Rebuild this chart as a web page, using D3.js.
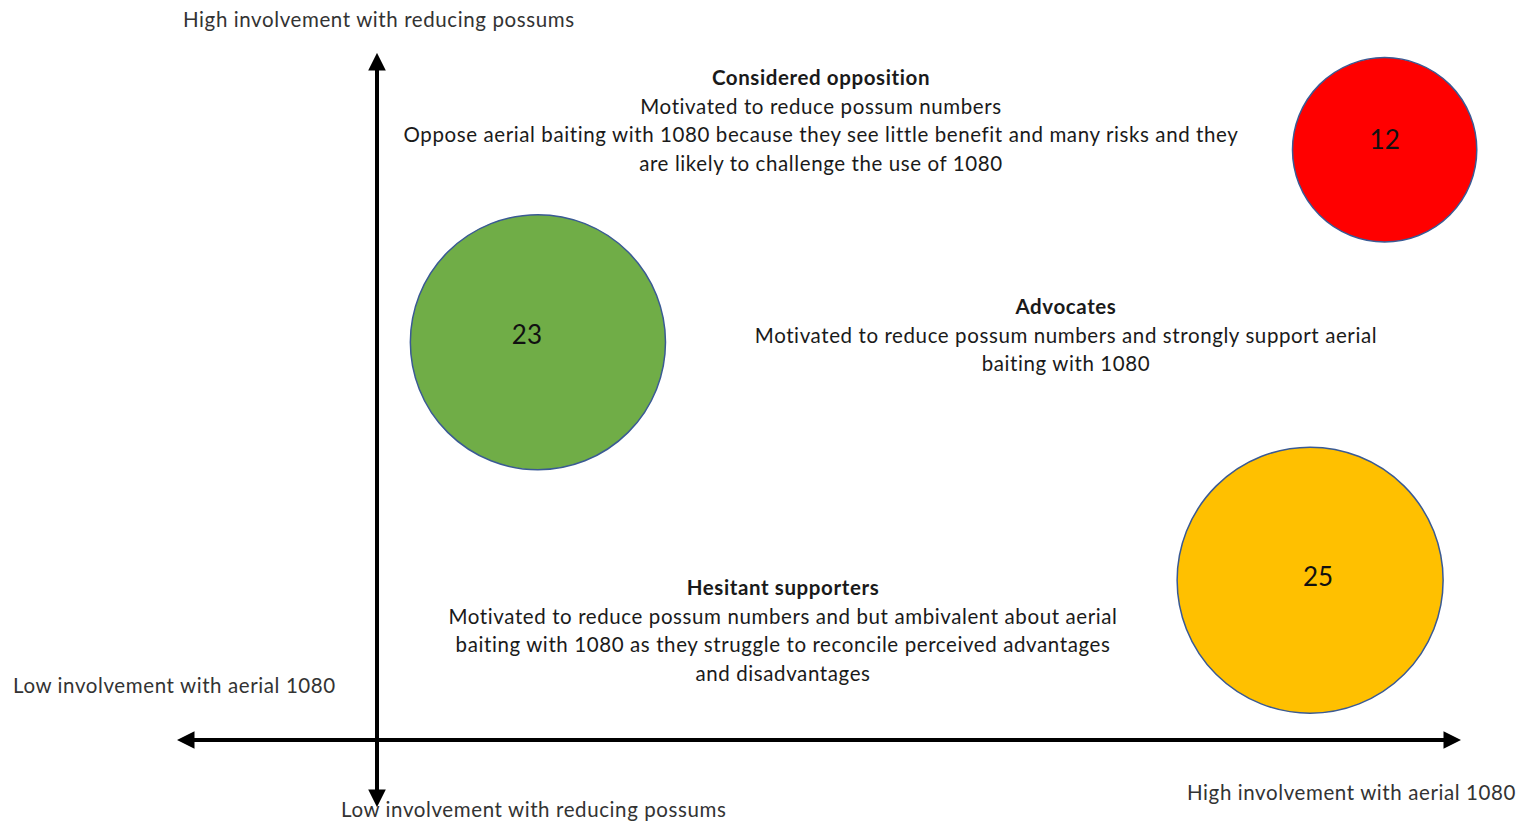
<!DOCTYPE html>
<html>
<head>
<meta charset="utf-8">
<script src="https://cdn.jsdelivr.net/npm/d3@7"></script>
<style>
  body { margin: 0; background: #fff; }
  svg { display: block; font-family: Lato, "Open Sans", sans-serif; }
</style>
</head>
<body>
<script>
// segments, counts and where they sit on the two involvement axes (0-100)
var segments = ['Considered opposition', 'Advocates', 'Hesitant supporters'];
var counts = [12, 23, 25];
var aerialInvolvement = [93.3, 14.9, 86.4];
var possumInvolvement = [86.8, 58.5, 23.5];
var fills = ['#ff0000', '#70ad47', '#ffc000'];

var descriptions = [
	['Motivated to reduce possum numbers',
	 'Oppose aerial baiting with 1080 because they see little benefit and many risks and they',
	 'are likely to challenge the use of 1080'],
	['Motivated to reduce possum numbers and strongly support aerial',
	 'baiting with 1080'],
	['Motivated to reduce possum numbers and but ambivalent about aerial',
	 'baiting with 1080 as they struggle to reconcile perceived advantages',
	 'and disadvantages']
];

var W = 1520, H = 821;
var svg = d3.select('body').append('svg').attr('width', W).attr('height', H);

var x = d3.scaleLinear().domain([0, 100]).range([377, 1457]);
var y = d3.scaleLinear().domain([0, 100]).range([740, 60]);
var r = d3.scaleSqrt().domain([0, 25]).range([0, 133]);

// arrow heads
var defs = svg.append('defs');
defs.append('marker')
	.attr('id', 'head')
	.attr('viewBox', '0 0 10 10')
	.attr('refX', 2).attr('refY', 5)
	.attr('markerWidth', 4.4).attr('markerHeight', 4.6)
	.attr('orient', 'auto-start-reverse')
	.append('path').attr('d', 'M0,0 L10,5 L0,10 Z').attr('fill', '#000');

// axes
svg.append('line')
	.attr('x1', x(0)).attr('x2', x(0))
	.attr('y1', 793).attr('y2', 67)
	.attr('stroke', '#000').attr('stroke-width', 4)
	.attr('marker-start', 'url(#head)').attr('marker-end', 'url(#head)');
svg.append('line')
	.attr('x1', 191).attr('x2', 1447)
	.attr('y1', y(0)).attr('y2', y(0))
	.attr('stroke', '#000').attr('stroke-width', 4)
	.attr('marker-start', 'url(#head)').attr('marker-end', 'url(#head)');

var axisLabels = [
	{t: 'High involvement with reducing possums', x: 183, y: 27},
	{t: 'Low involvement with aerial 1080', x: 13, y: 693},
	{t: 'Low involvement with reducing possums', x: 341, y: 817},
	{t: 'High involvement with aerial 1080', x: 1187, y: 800}
];
svg.selectAll('text.axis-label')
	.data(axisLabels)
	.enter()
	.append('text')
	.attr('class', 'axis-label')
	.attr('x', d => d.x).attr('y', d => d.y)
	.attr('font-size', 20.5)
	.attr('letter-spacing', 0.6)
	.attr('fill', '#333')
	.text(d => d.t);

// bubbles
var labelNudge = [[0, 0], [-11, 3], [8, 7]];
var bubbles = svg.selectAll('g.bubble')
	.data(counts)
	.enter()
	.append('g')
	.attr('class', 'bubble')
	.attr('transform', (d, i) => 'translate(' + x(aerialInvolvement[i]) + ',' + y(possumInvolvement[i]) + ')');

bubbles.append('circle')
	.attr('r', d => r(d))
	.attr('fill', (d, i) => fills[i])
	.attr('stroke', '#3a5a94')
	.attr('stroke-width', 1.5);

bubbles.append('text')
	.attr('x', (d, i) => labelNudge[i][0])
	.attr('y', (d, i) => -1 + labelNudge[i][1])
	.attr('text-anchor', 'middle')
	.attr('font-size', 26)
	.attr('fill', '#111')
	.text(d => d);

// segment descriptions
var blocks = [
	{cx: 821, top: 85},
	{cx: 1066, top: 314},
	{cx: 783, top: 595}
];
var lh = 28.5;
blocks.forEach(function(b, i) {
	var t = svg.append('text')
		.attr('text-anchor', 'middle')
		.attr('font-size', 20.5)
		.attr('letter-spacing', 0.6)
		.attr('fill', '#1a1a1a');
	t.append('tspan')
		.attr('x', b.cx).attr('y', b.top)
		.attr('font-weight', 'bold')
		.text(segments[i]);
	descriptions[i].forEach(function(line, j) {
		t.append('tspan')
			.attr('x', b.cx).attr('y', b.top + (j + 1) * lh)
			.text(line);
	});
});
</script>
</body>
</html>
